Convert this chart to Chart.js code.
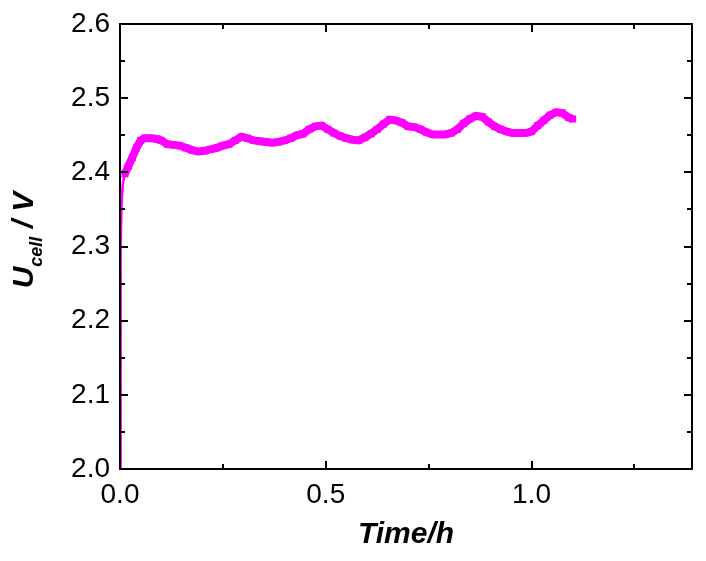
<!DOCTYPE html>
<html>
<head>
<meta charset="utf-8">
<script src="https://cdn.jsdelivr.net/npm/chart.js@4/dist/chart.umd.min.js"></script>
<style>
  html, body { margin: 0; padding: 0; background: #fff; }
  #wrap { width: 706px; height: 561px; }
</style>
</head>
<body>
<div id="wrap"><canvas id="cellChart"></canvas></div>
<script>
  // Cell voltage vs time
  const timeH = [0, 0.001, 0.002, 0.004, 0.007, 0.012, 0.02, 0.03, 0.04, 0.05,
    0.06, 0.075, 0.09, 0.1, 0.115, 0.13, 0.145, 0.16, 0.175, 0.19,
    0.205, 0.22, 0.235, 0.25, 0.265, 0.28, 0.295, 0.31, 0.325, 0.34,
    0.355, 0.37, 0.385, 0.4, 0.415, 0.43, 0.445, 0.46, 0.475, 0.49,
    0.505, 0.52, 0.535, 0.55, 0.565, 0.58, 0.595, 0.61, 0.625, 0.64,
    0.655, 0.67, 0.685, 0.7, 0.715, 0.73, 0.745, 0.76, 0.775, 0.79,
    0.805, 0.82, 0.835, 0.85, 0.865, 0.88, 0.895, 0.91, 0.925, 0.94,
    0.955, 0.97, 0.985, 1.0, 1.015, 1.03, 1.045, 1.06, 1.075, 1.09, 1.1];
  const uCell = [2.0, 2.2, 2.3, 2.36, 2.385, 2.398, 2.408, 2.42, 2.433, 2.443,
    2.446, 2.446, 2.445, 2.443, 2.438, 2.437, 2.436, 2.433, 2.43, 2.428,
    2.429, 2.431, 2.433, 2.436, 2.438, 2.443, 2.448, 2.446, 2.443, 2.442,
    2.441, 2.44, 2.441, 2.443, 2.446, 2.45, 2.452, 2.458, 2.462, 2.463,
    2.458, 2.453, 2.449, 2.446, 2.444, 2.443, 2.447, 2.452, 2.458, 2.465,
    2.471, 2.47, 2.467, 2.462, 2.461, 2.458, 2.454, 2.451, 2.451, 2.451,
    2.453, 2.458, 2.466, 2.472, 2.476, 2.475, 2.468, 2.462, 2.458, 2.455,
    2.453, 2.453, 2.453, 2.455, 2.463, 2.47, 2.477, 2.481, 2.48, 2.474, 2.472];

  // axis ticks
  const xMajorTicks = [0, 0.5, 1.0];
  const xMinorTicks = [0.25, 0.75, 1.25];
  const yMajorTicks = [2.0, 2.1, 2.2, 2.3, 2.4, 2.5, 2.6];
  const yMinorTicks = [2.05, 2.15, 2.25, 2.35, 2.45, 2.55];

  const magenta = '#ff00ff';
  const fontFam = 'Liberation Sans, Arial, sans-serif';
  const tickFont = { family: fontFam, size: 28 };

  // frame + inward ticks on all four sides, y title with subscript
  const framePlugin = {
    id: 'frame',
    afterDraw(chart) {
      const ctx = chart.ctx;
      const a = chart.chartArea;
      const xs = chart.scales.x, ys = chart.scales.y;
      ctx.save();
      ctx.strokeStyle = '#000';
      ctx.lineWidth = 2;
      ctx.strokeRect(a.left, a.top, a.right - a.left, a.bottom - a.top);
      ctx.beginPath();
      const tick = (vals, len, isX) => {
        vals.forEach(v => {
          if (isX) {
            const p = Math.round(xs.getPixelForValue(v));
            ctx.moveTo(p, a.bottom); ctx.lineTo(p, a.bottom - len);
            ctx.moveTo(p, a.top); ctx.lineTo(p, a.top + len);
          } else {
            const p = Math.round(ys.getPixelForValue(v));
            ctx.moveTo(a.left, p); ctx.lineTo(a.left + len, p);
            ctx.moveTo(a.right, p); ctx.lineTo(a.right - len, p);
          }
        });
      };
      tick(xMajorTicks, 8, true);
      tick(xMinorTicks, 5, true);
      tick(yMajorTicks, 8, false);
      tick(yMinorTicks, 5, false);
      ctx.stroke();

      ctx.fillStyle = '#000';
      ctx.translate(33, 240);
      ctx.rotate(-Math.PI / 2);
      ctx.textBaseline = 'alphabetic';
      const big = 'italic bold 30px ' + fontFam;
      const small = 'italic bold 18px ' + fontFam;
      ctx.font = big;
      const w1 = ctx.measureText('U').width;
      const w3 = ctx.measureText(' / V').width;
      ctx.font = small;
      const w2 = ctx.measureText('cell').width;
      const x0 = -(w1 + w2 + w3) / 2;
      ctx.font = big;
      ctx.fillText('U', x0, 0);
      ctx.fillText(' / V', x0 + w1 + w2, 0);
      ctx.font = small;
      ctx.fillText('cell', x0 + w1, 9);
      ctx.restore();
    }
  };

  const points = timeH.map((t, i) => ({ x: t, y: uCell[i] }));

  new Chart(document.getElementById('cellChart'), {
    type: 'line',
    data: {
      datasets: [{
        label: 'Ucell',
        data: points,
        borderColor: magenta,
        backgroundColor: magenta,
        borderWidth: 8,
        borderJoinStyle: 'miter',
        tension: 0,
        pointStyle: 'rect',
        pointRadius: ctx => (ctx.raw && ctx.raw.y < 2.39 ? 0 : 5),
        pointBorderWidth: 0,
        segment: {
          borderWidth: ctx => (ctx.p0.parsed.y < 2.39 ? 2.5 : 8)
        }
      }]
    },
    options: {
      responsive: true,
      maintainAspectRatio: false,
      animation: false,
      layout: { padding: { left: 0, right: 14, top: 24, bottom: 0 } },
      plugins: {
        legend: { display: false },
        tooltip: { enabled: false }
      },
      scales: {
        x: {
          type: 'linear',
          min: 0,
          max: 1.39,
          afterBuildTicks: s => { s.ticks = xMajorTicks.map(v => ({ value: v })); },
          afterFit: s => { s.height = 92; s.paddingLeft = 0; s.paddingRight = 0; },
          grid: { display: false, drawTicks: false },
          border: { display: false },
          ticks: {
            color: '#000',
            font: tickFont,
            padding: 9,
            maxRotation: 0,
            callback: v => v.toFixed(1)
          },
          title: {
            display: true,
            text: 'Time/h',
            color: '#000',
            font: { family: fontFam, size: 30, weight: 'bold', style: 'italic' },
            padding: { top: 4, bottom: 8 }
          }
        },
        y: {
          type: 'linear',
          min: 2.0,
          max: 2.6,
          afterBuildTicks: s => { s.ticks = yMajorTicks.map(v => ({ value: v })); },
          afterFit: s => { s.width = 120; s.paddingTop = 0; s.paddingBottom = 0; },
          grid: { display: false, drawTicks: false },
          border: { display: false },
          ticks: {
            color: '#000',
            font: tickFont,
            padding: 10,
            callback: v => v.toFixed(1)
          }
        }
      }
    },
    plugins: [framePlugin]
  });
</script>
</body>
</html>
